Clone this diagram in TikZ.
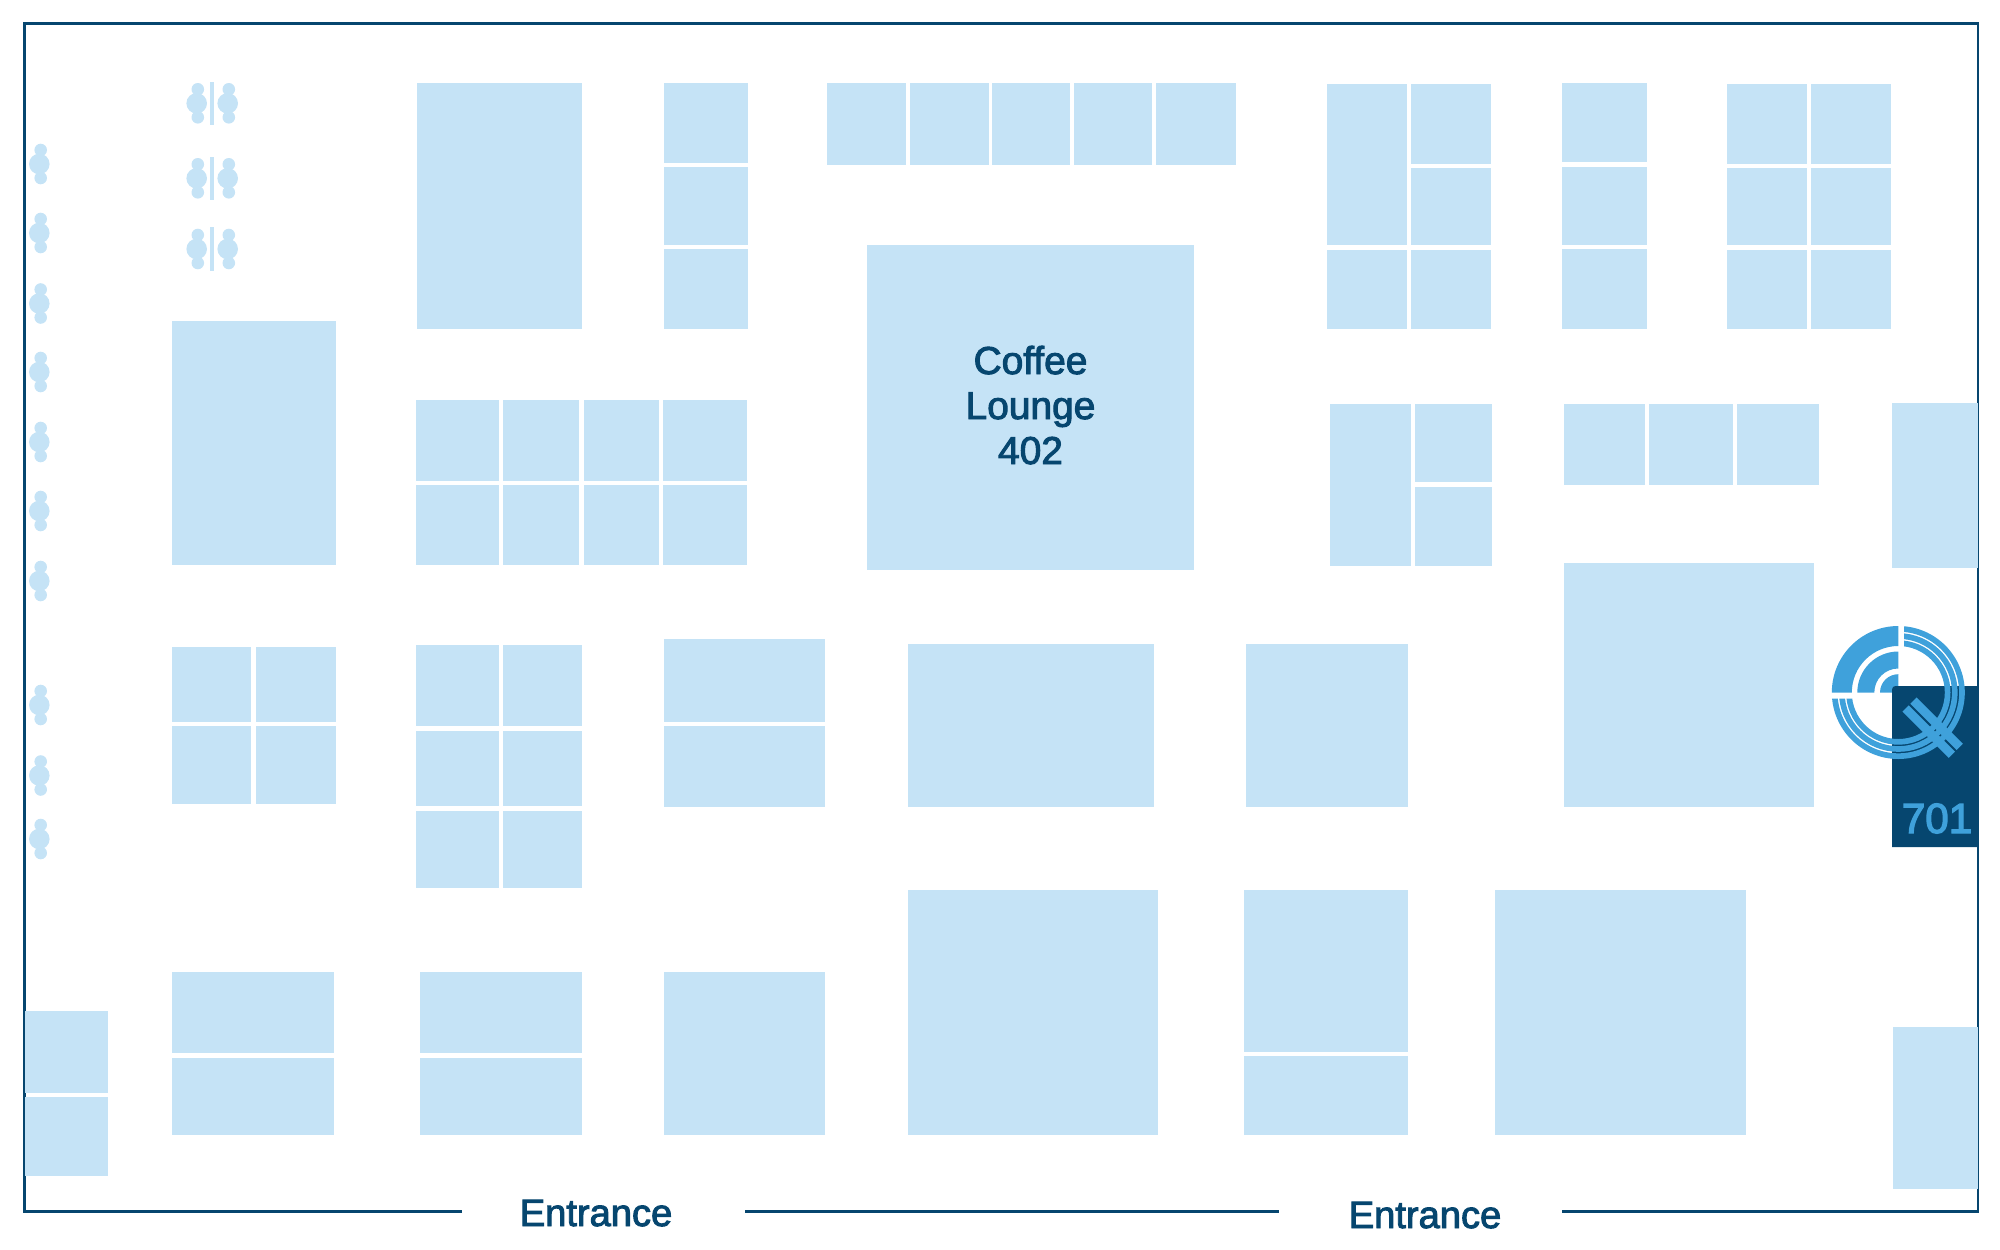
\documentclass[tikz,border=0pt]{standalone}
\usepackage{fontspec}
\font\medE="Liberation Sans:embolden=2.5" at 54.2pt
\font\medR="Liberation Sans:embolden=2.5" at 55.3pt
\font\medL="Liberation Sans:embolden=3" at 60pt
\definecolor{booth}{HTML}{C5E3F6}
\definecolor{navy}{HTML}{06466F}
\definecolor{logoblue}{HTML}{3FA1DB}
\tikzset{
  boothbox/.style={fill=booth,draw=none},
  framestroke/.style={draw=navy,line width=2.9pt},
  entrance/.style={text=navy,anchor=base,inner sep=0pt,font=\medE},
  roomtext/.style={text=navy,anchor=base,inner sep=0pt,font=\medR},
  logotext/.style={text=logoblue,anchor=base,inner sep=0pt,font=\medL},
  strand/.style={draw=logoblue,line width=8.1pt},
  tail/.style={draw=logoblue,line width=12.65pt},
}
\begin{document}
\begin{tikzpicture}[x=0.05cm,y=-0.05cm]
\useasboundingbox (0,0) rectangle (2000,1250);
% frame
\draw[framestroke,line cap=butt] (462,1211.5) -- (24.5,1211.5) -- (24.5,23.5) -- (1978,23.5) -- (1978,1211.5) -- (1562,1211.5);
\draw[framestroke] (745,1211.5) -- (1279,1211.5);
% booths
\foreach \a/\b/\c/\d in {
 417/83/582/329,
 664/83/748/163, 664/167/748/245, 664/249/748/329,
 827/83/906/165, 910/83/989/165, 992/83/1070/165, 1074/83/1152/165, 1156/83/1236/165,
 867/245/1194/570,
 172/321/336/565,
 416/400/499/481, 503/400/579/481, 584/400/659/481, 663/400/747/481,
 416/485/499/565, 503/485/579/565, 584/485/659/565, 663/485/747/565,
 1327/84/1407/245, 1411/84/1491/164, 1411/168/1491/245, 1327/250/1407/329, 1411/250/1491/329,
 1562/83/1647/162, 1562/167/1647/245, 1562/249/1647/329,
 1727/84/1807/164, 1811/84/1891/164, 1727/168/1807/245, 1811/168/1891/245, 1727/250/1807/329, 1811/250/1891/329,
 1330/404/1411/566, 1415/404/1492/482, 1415/487/1492/566,
 1564/404/1645/485, 1649/404/1733/485, 1737/404/1819/485,
 1892/403/1978/568,
 1564/563/1814/807,
 172/647/251/722, 256/647/336/722, 172/726/251/804, 256/726/336/804,
 416/645/499/726, 503/645/582/726, 416/731/499/806, 503/731/582/806, 416/811/499/888, 503/811/582/888,
 664/639/825/722, 664/726/825/807,
 908/644/1154/807,
 1246/644/1408/807,
 908/890/1158/1135,
 1244/890/1408/1052, 1244/1056/1408/1135,
 1495/890/1746/1135,
 1893/1027/1978/1189,
 172/972/334/1053, 172/1058/334/1135,
 420/972/582/1053, 420/1058/582/1135,
 664/972/825/1135,
 25/1011/108/1093, 25/1097/108/1176}
 {\fill[boothbox] (\a,\b) rectangle (\c,\d);}
% single seats
\foreach \y in {164,233,303.5,372,442,511,581,705,775.5,839}{
  \fill[boothbox] (39.3,\y) circle (10.3);
  \fill[boothbox] (40.7,\y-14) circle (6.3);
  \fill[boothbox] (40.7,\y+14) circle (6.3);
}
% paired seats
\foreach \y in {103.3,178.3,249}{
  \foreach \x in {196.7,227.7}{
    \fill[boothbox] (\x,\y) circle (10.3);
    \fill[boothbox] (\x+1.1,\y-14) circle (6.3);
    \fill[boothbox] (\x+1.1,\y+14) circle (6.3);
  }
  \fill[boothbox] (210,\y-21.7) rectangle (214,\y+21.7);
}
% logo back quadrants
\fill[logoblue] (1831.8,692.5) arc[start angle=180,end angle=270,radius=66.5] -- ++(0,20) arc[start angle=270,end angle=180,radius=46.5] -- cycle;
\fill[logoblue] (1857.3,692.5) arc[start angle=180,end angle=270,radius=41] -- ++(0,17) arc[start angle=270,end angle=180,radius=24] -- cycle;
\fill[logoblue] (1898.3,692.5) -- (1880,692.5) arc[start angle=180,end angle=270,radius=18.3] -- cycle;
% room 701
\fill[navy] (1978,847) -- (1892,847) [rounded corners=5pt] -- (1892,686) [sharp corners] -- (1978,686) -- cycle;
% logo ring
\begin{scope}
  \clip (1904,600) -- (1995,600) -- (1995,790) -- (1810,790) -- (1810,698.7) -- (1904,698.7) -- cycle;
  \draw[strand] (1898.3,692.5) circle (49.35);
  \draw[strand] (1898.3,692.5) circle (56.5);
  \draw[strand] (1898.3,692.5) circle (63.65);
\end{scope}
% logo tail
\draw[tail] (1913.42,700.58) -- (1959.72,746.88);
\draw[tail] (1905.58,708.42) -- (1951.88,754.72);
% labels
\node[entrance] (e1) at (596,1226) {Entrance};
\node[entrance] (e2) at (1425,1228) {Entrance};
\node[roomtext] (c1) at (1030.5,374) {Coffee};
\node[roomtext] (c2) at (1030.5,419) {Lounge};
\node[roomtext] (c3) at (1030.5,464) {402};
\node[logotext] (r701) at (1937,833) {701};
\end{tikzpicture}
\end{document}
